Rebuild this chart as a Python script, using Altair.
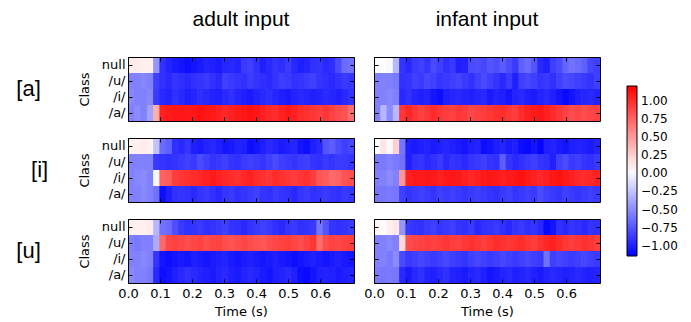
import altair as alt
import pandas as pd

CLASSES = ["null", "/u/", "/i/", "/a/"]
INPUTS = ["adult input", "infant input"]
VOWELS = ["[a]", "[i]", "[u]"]
N_FRAMES = 36
FRAME_STEP = 0.0196
TIME_TICKS = [0.0, 0.1, 0.2, 0.3, 0.4, 0.5, 0.6]
CBAR_TICKS = [-1.0, -0.75, -0.5, -0.25, 0.0, 0.25, 0.5, 0.75, 1.0]
COLOR_DOMAIN = [-1.14, 0.03, 1.2]
COLOR_RANGE = ["#0000ff", "#ffffff", "#ff0000"]

# ---- [a] stimulus, adult input ----
ADULT_A_NULL = [0.12, 0.12, 0.10, 0.10, -0.45, -0.92, -0.98, -1.02, -1.05, -1.08, -1.05, -1.02, -0.98, -1.00, -1.02, -0.97, -0.95, -0.98, -0.88, -0.85, -0.92, -1.00, -0.95, -0.90, -0.93, -0.88, -0.95, -1.00, -0.97, -0.92, -0.90, -0.95, -0.93, -0.80, -0.65, -0.62]
ADULT_A_U = [-0.55, -0.55, -0.52, -0.55, -0.85, -0.92, -0.95, -0.90, -0.93, -0.95, -0.92, -0.90, -0.88, -0.92, -0.95, -0.85, -0.88, -0.90, -0.92, -0.87, -0.90, -0.93, -0.95, -0.90, -0.85, -0.88, -0.92, -0.90, -0.87, -0.85, -0.90, -0.93, -0.95, -0.92, -0.88, -0.90]
ADULT_A_I = [-0.52, -0.55, -0.55, -0.52, -0.88, -0.95, -0.98, -0.92, -0.95, -1.00, -0.97, -0.93, -0.95, -0.98, -1.00, -0.95, -0.92, -0.97, -1.00, -1.02, -0.98, -0.95, -0.93, -0.97, -1.00, -1.02, -0.98, -0.95, -0.97, -1.00, -0.98, -0.95, -0.97, -1.00, -0.95, -0.92]
ADULT_A_A = [-0.55, -0.50, -0.55, -0.40, 0.40, 1.05, 1.08, 1.10, 1.10, 1.08, 1.10, 1.12, 1.10, 1.08, 1.05, 1.02, 1.05, 1.08, 1.10, 1.12, 1.10, 1.05, 1.02, 1.00, 1.05, 1.08, 1.05, 1.00, 0.98, 0.95, 0.92, 0.95, 0.90, 0.85, 0.82, 0.70]

# ---- [a] stimulus, infant input ----
INFANT_A_NULL = [0.05, 0.02, 0.00, -0.30, -0.90, -0.95, -0.88, -0.85, -0.90, -0.80, -0.85, -0.92, -0.88, -1.00, -0.98, -0.80, -0.78, -0.82, -0.75, -0.78, -0.72, -0.80, -0.88, -0.70, -0.65, -0.75, -0.95, -1.00, -0.85, -0.80, -0.68, -0.62, -0.65, -0.70, -0.82, -0.85]
INFANT_A_U = [-0.55, -0.55, -0.55, -0.58, -0.92, -0.90, -0.85, -0.88, -0.82, -0.85, -0.90, -0.88, -0.85, -0.83, -0.88, -0.92, -0.85, -0.80, -0.85, -0.90, -0.95, -0.88, -1.00, -0.85, -0.82, -0.85, -0.90, -0.88, -0.92, -0.85, -0.80, -0.82, -0.85, -0.88, -0.90, -0.85]
INFANT_A_I = [-0.55, -0.55, -0.52, -0.55, -0.95, -0.92, -0.97, -1.00, -0.98, -1.05, -1.08, -1.00, -0.97, -0.95, -0.98, -1.00, -0.97, -0.95, -1.02, -0.98, -1.00, -1.05, -0.98, -0.95, -1.00, -1.02, -0.98, -0.95, -1.00, -1.05, -1.10, -1.05, -1.00, -0.97, -0.95, -0.98]
INFANT_A_A = [-0.55, -0.30, -0.50, -0.30, 0.95, 1.02, 0.95, 0.90, 0.95, 1.00, 0.95, 0.92, 0.90, 0.95, 0.92, 0.88, 0.90, 0.92, 0.95, 0.98, 1.00, 0.95, 0.92, 1.00, 1.05, 1.08, 1.10, 1.05, 1.00, 0.95, 0.90, 0.85, 0.88, 0.85, 0.88, 0.90]

# ---- [i] stimulus, adult input ----
ADULT_I_NULL = [0.10, 0.10, 0.12, 0.10, -0.25, -0.65, -0.70, -0.92, -0.95, -0.90, -1.00, -1.02, -0.98, -0.95, -1.00, -1.05, -1.02, -0.98, -1.00, -1.08, -1.05, -1.00, -0.95, -0.98, -1.02, -1.00, -0.97, -1.05, -1.08, -1.00, -0.95, -0.75, -0.72, -0.80, -0.85, -0.82]
ADULT_I_U = [-0.55, -0.55, -0.55, -0.55, -0.88, -0.90, -0.92, -0.90, -0.88, -0.85, -0.88, -0.80, -0.85, -0.90, -0.88, -0.85, -0.90, -0.92, -0.88, -0.85, -0.87, -0.90, -0.85, -0.80, -0.85, -0.88, -0.90, -0.87, -0.85, -0.90, -0.92, -0.88, -0.90, -0.87, -0.88, -0.90]
ADULT_I_I = [-0.55, -0.52, -0.50, -0.55, 0.00, 0.75, 0.78, 0.92, 0.95, 0.98, 1.00, 1.02, 1.05, 1.08, 1.05, 1.02, 1.00, 0.98, 1.02, 1.05, 1.00, 0.98, 0.95, 1.00, 0.98, 0.95, 0.92, 0.95, 0.98, 0.92, 0.80, 0.78, 0.72, 0.75, 0.82, 0.85]
ADULT_I_A = [-0.55, -0.55, -0.52, -0.55, -0.62, -1.08, -1.00, -0.92, -0.90, -0.92, -0.95, -0.90, -0.88, -0.92, -0.95, -0.90, -0.88, -0.92, -0.90, -0.88, -0.85, -0.90, -0.92, -0.88, -0.90, -0.92, -0.95, -0.90, -0.88, -0.92, -0.90, -0.88, -0.90, -0.92, -0.88, -0.90]

# ---- [i] stimulus, infant input ----
INFANT_I_NULL = [0.02, 0.15, 0.00, 0.25, -0.60, -1.00, -1.02, -1.00, -0.98, -1.02, -1.00, -0.97, -1.00, -1.02, -1.05, -1.00, -0.98, -1.08, -1.05, -1.00, -0.97, -1.02, -1.00, -1.08, -1.10, -1.05, -1.12, -1.00, -0.98, -1.02, -1.05, -1.00, -0.98, -1.00, -1.02, -0.98]
INFANT_I_U = [-0.58, -0.58, -0.55, -0.58, -0.62, -1.00, -0.92, -0.90, -0.95, -0.92, -0.88, -0.95, -0.90, -0.92, -0.95, -0.90, -0.88, -0.85, -0.90, -0.92, -0.72, -0.90, -0.95, -0.92, -0.88, -0.85, -0.90, -0.92, -1.00, -0.85, -0.80, -0.88, -0.85, -0.90, -0.92, -0.88]
INFANT_I_I = [-0.55, -0.55, -0.50, -0.55, 0.50, 1.05, 1.08, 1.08, 1.10, 1.08, 1.05, 1.08, 1.10, 1.08, 1.05, 1.02, 1.05, 1.08, 1.10, 1.08, 1.05, 1.08, 1.10, 1.12, 1.08, 1.05, 1.02, 1.05, 1.10, 1.12, 1.08, 1.05, 1.02, 1.00, 1.02, 1.05]
INFANT_I_A = [-0.60, -0.60, -0.58, -0.60, -0.85, -0.90, -0.88, -0.85, -0.88, -0.90, -0.85, -0.88, -0.85, -0.88, -0.90, -0.88, -0.85, -0.88, -0.90, -0.92, -0.88, -0.85, -0.90, -0.88, -0.85, -0.88, -0.80, -0.85, -0.88, -0.90, -0.85, -0.88, -0.90, -0.88, -0.85, -0.88]

# ---- [u] stimulus, adult input ----
ADULT_U_NULL = [0.10, 0.10, 0.10, 0.12, -0.30, -0.62, -0.65, -0.78, -0.88, -0.92, -0.90, -0.88, -0.92, -0.90, -0.88, -0.85, -0.90, -0.92, -0.95, -0.90, -0.88, -0.85, -0.88, -0.92, -0.95, -0.90, -0.88, -0.92, -0.90, -0.88, -0.60, -0.75, -0.90, -0.92, -0.90, -0.88]
ADULT_U_U = [-0.55, -0.58, -0.55, -0.55, -0.35, 0.72, 0.88, 0.90, 0.88, 0.85, 0.88, 0.90, 0.85, 0.88, 0.90, 0.85, 0.82, 0.85, 0.88, 0.85, 0.82, 0.80, 0.85, 0.88, 0.90, 0.92, 0.88, 0.85, 0.90, 0.95, 0.70, 0.85, 0.90, 0.88, 0.90, 0.92]
ADULT_U_I = [-0.55, -0.55, -0.52, -0.55, -0.90, -1.05, -1.08, -1.05, -1.02, -1.05, -1.00, -1.02, -1.05, -1.02, -1.00, -0.98, -1.02, -1.05, -1.02, -1.00, -1.02, -1.05, -1.02, -1.00, -1.02, -1.05, -1.08, -1.05, -1.02, -1.00, -1.02, -1.05, -1.02, -1.00, -1.02, -1.05]
ADULT_U_A = [-0.52, -0.55, -0.55, -0.58, -0.95, -1.08, -1.05, -1.00, -0.95, -0.92, -0.95, -0.98, -1.00, -1.02, -0.98, -0.95, -1.00, -1.02, -0.98, -0.95, -0.98, -1.02, -1.05, -1.00, -0.98, -0.95, -1.00, -1.08, -1.10, -1.05, -1.00, -0.98, -1.00, -1.02, -1.00, -0.98]

# ---- [u] stimulus, infant input ----
INFANT_U_NULL = [0.08, 0.05, 0.10, 0.15, -0.45, -0.88, -0.90, -0.92, -0.88, -0.85, -0.90, -0.88, -0.85, -0.90, -0.92, -0.88, -0.95, -0.92, -0.90, -0.88, -0.92, -0.95, -0.90, -0.88, -0.92, -0.90, -0.95, -1.10, -1.05, -0.92, -0.95, -0.90, -0.92, -0.95, -0.90, -0.92]
INFANT_U_U = [-0.55, -0.55, -0.52, -0.55, 0.20, 0.85, 0.88, 0.90, 0.92, 0.90, 0.92, 0.95, 0.92, 0.90, 0.95, 0.98, 0.95, 0.92, 0.95, 1.00, 0.98, 0.95, 0.98, 1.00, 0.95, 0.92, 0.98, 1.02, 1.05, 1.00, 0.95, 0.92, 0.95, 0.98, 0.95, 0.92]
INFANT_U_I = [-0.55, -0.55, -0.58, -0.50, -0.80, -0.88, -0.85, -0.82, -0.85, -0.88, -0.85, -0.82, -0.85, -0.88, -0.90, -0.85, -0.82, -0.85, -0.88, -0.85, -0.82, -0.85, -0.88, -0.85, -0.82, -0.85, -0.88, -0.62, -0.85, -0.82, -0.85, -0.88, -0.85, -0.82, -0.85, -0.88]
INFANT_U_A = [-0.58, -0.60, -0.58, -0.60, -0.95, -1.02, -0.95, -0.92, -0.98, -1.00, -0.95, -0.92, -0.98, -1.00, -1.02, -0.98, -0.95, -1.00, -1.05, -1.02, -0.98, -0.95, -1.00, -0.98, -0.95, -1.00, -1.02, -0.98, -0.95, -0.98, -1.00, -0.98, -0.95, -0.98, -1.00, -0.98]

GRID = {
    ("[a]", "adult input"): [ADULT_A_NULL, ADULT_A_U, ADULT_A_I, ADULT_A_A],
    ("[a]", "infant input"): [INFANT_A_NULL, INFANT_A_U, INFANT_A_I, INFANT_A_A],
    ("[i]", "adult input"): [ADULT_I_NULL, ADULT_I_U, ADULT_I_I, ADULT_I_A],
    ("[i]", "infant input"): [INFANT_I_NULL, INFANT_I_U, INFANT_I_I, INFANT_I_A],
    ("[u]", "adult input"): [ADULT_U_NULL, ADULT_U_U, ADULT_U_I, ADULT_U_A],
    ("[u]", "infant input"): [INFANT_U_NULL, INFANT_U_U, INFANT_U_I, INFANT_U_A],
}

records = []
for (vowel, inp), rows in GRID.items():
    for cls, vals in zip(CLASSES, rows):
        for k, v in enumerate(vals):
            records.append({"vowel": vowel, "input": inp, "cls": cls,
                            "t0": k * FRAME_STEP, "t1": (k + 1) * FRAME_STEP, "v": v})
df = pd.DataFrame(records)

TICK_FONT = "DejaVu Sans"
TEXT_FONT = "Liberation Sans"
W, H = 226, 64
X_SCALE = alt.Scale(domain=[0, N_FRAMES * FRAME_STEP], nice=False, zero=False)
Y_SCALE = alt.Scale(domain=CLASSES, paddingInner=0, paddingOuter=0)
COLOR_SCALE = alt.Scale(domain=COLOR_DOMAIN, range=COLOR_RANGE, interpolate="rgb")

LEGEND = alt.Legend(orient="none", legendX=499, legendY=78, direction="vertical",
                    type="gradient", title=None, values=CBAR_TICKS, format=".2f",
                    gradientLength=170, gradientThickness=10,
                    gradientStrokeColor="black", gradientStrokeWidth=1,
                    labelFont=TICK_FONT, labelFontSize=12, labelColor="black",
                    labelOffset=4, padding=0, labelOverlap=False)


def main_x(show):
    if show:
        return alt.Axis(orient="bottom", values=TIME_TICKS, format=".1f", grid=False,
                        domain=True, domainColor="black", domainWidth=1, ticks=False,
                        labels=True, labelFlush=False, labelFont=TICK_FONT,
                        labelFontSize=13, labelColor="black", labelPadding=4,
                        title="Time (s)", titleFont=TICK_FONT, titleFontSize=13,
                        titleFontWeight="normal", titleColor="black", titlePadding=5,
                        zindex=1)
    return alt.Axis(orient="bottom", values=TIME_TICKS, grid=False, domain=True,
                    domainColor="black", domainWidth=1, ticks=False, labels=False,
                    title=None, zindex=1)


def main_y(show):
    if show:
        return alt.Axis(orient="left", grid=False, domain=True, domainColor="black",
                        domainWidth=1, ticks=False, labels=True, labelFont=TICK_FONT,
                        labelFontSize=13, labelColor="black", labelPadding=3,
                        title="Class", titleFont=TICK_FONT, titleFontSize=13,
                        titleFontWeight="normal", titleColor="black", titlePadding=10,
                        zindex=1)
    return alt.Axis(orient="left", grid=False, domain=True, domainColor="black",
                    domainWidth=1, ticks=False, labels=False, title=None, zindex=1)


def frame_axis(orient, vals=None):
    if vals is None:
        return alt.Axis(orient=orient, grid=False, domain=True, domainColor="black",
                        domainWidth=1, ticks=False, labels=False, title=None, zindex=1)
    return alt.Axis(orient=orient, values=vals, grid=False, domain=True,
                    domainColor="black", domainWidth=1, ticks=False, labels=False,
                    title=None, zindex=1)


def tick_axis(orient, vals=None):
    if vals is None:
        return alt.Axis(orient=orient, grid=False, domain=False, ticks=True,
                        tickColor="black", tickWidth=1, tickSize=4, offset=-4,
                        labels=False, title=None, zindex=1)
    return alt.Axis(orient=orient, values=vals, grid=False, domain=False, ticks=True,
                    tickColor="black", tickWidth=1, tickSize=4, offset=-4,
                    labels=False, title=None, zindex=1)


def panel(vowel, inp, bottom, left):
    data = df[(df["vowel"] == vowel) & (df["input"] == inp)]
    base = alt.Chart(data)
    heat = base.mark_rect(x2Offset=0.7).encode(
        x=alt.X("t0:Q", scale=X_SCALE, axis=main_x(bottom)),
        x2="t1",
        y=alt.Y("cls:N", scale=Y_SCALE, sort=CLASSES, axis=main_y(left)),
        color=alt.Color("v:Q", scale=COLOR_SCALE, legend=LEGEND),
    )

    def ghost(xa, ya):
        return base.mark_rect(opacity=0).encode(
            x=alt.X("t0:Q", scale=X_SCALE, axis=xa),
            x2="t1",
            y=alt.Y("cls:N", scale=Y_SCALE, sort=CLASSES, axis=ya),
        )

    layers = [
        heat,
        ghost(frame_axis("top", TIME_TICKS), frame_axis("right")),
        ghost(tick_axis("bottom", TIME_TICKS), tick_axis("left")),
        ghost(tick_axis("top", TIME_TICKS), tick_axis("right")),
    ]
    ch = alt.layer(*layers).resolve_axis(x="independent", y="independent")
    if left:
        ch = ch.properties(width=W, height=H,
                           title=alt.TitleParams(vowel, orient="left", angle=0,
                                                 align="right", baseline="middle",
                                                 anchor="middle", fontSize=22,
                                                 font=TEXT_FONT, fontWeight="normal",
                                                 color="black", offset=13))
    else:
        ch = ch.properties(width=W, height=H)
    return ch


def col_title(text):
    return alt.Chart(pd.DataFrame({"label": [text]})).mark_text(
        font=TEXT_FONT, fontSize=21, color="black", baseline="alphabetic", dy=2
    ).encode(text="label:N").properties(width=W, height=32)


cells = [col_title(t) for t in INPUTS]
for r, vowel in enumerate(VOWELS):
    for c, inp in enumerate(INPUTS):
        cells.append(panel(vowel, inp, bottom=(r == len(VOWELS) - 1), left=(c == 0)))

chart = alt.concat(*cells, columns=2, spacing={"row": 17, "column": 20},
                   bounds="flush", align="each").resolve_scale(color="shared").properties(
    padding={"left": 8, "top": 0, "right": 0, "bottom": 0},
    background="white",
).configure_view(stroke=None)

chart.save("out.html", embed_options={"renderer": "svg", "actions": False})
